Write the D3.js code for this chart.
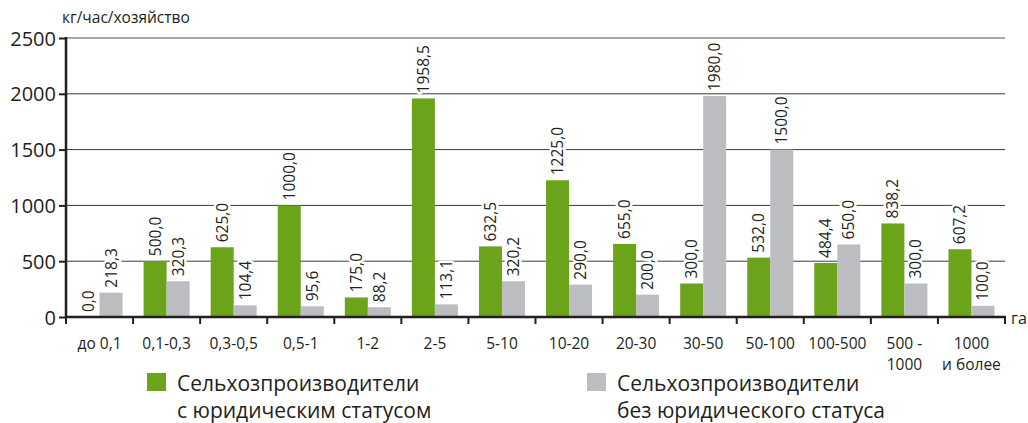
<!DOCTYPE html>
<html><head><meta charset="utf-8">
<script src="https://cdn.jsdelivr.net/npm/d3@7"></script>
<style>
body{margin:0;background:#fff;}
svg text{font-family:"Open Sans","Noto Sans",sans-serif;fill:#231f20;}
</style></head>
<body><svg id="c" width="1028" height="423"></svg>
<script>
const categories = [["до 0,1"],["0,1-0,3"],["0,3-0,5"],["0,5-1"],["1-2"],["2-5"],["5-10"],["10-20"],["20-30"],["30-50"],["50-100"],["100-500"],["500 -","1000"],["1000","и более"]];
const legalValues = [0, 500, 625, 1000, 175, 1958.5, 632.5, 1225, 655, 300, 532, 484.4, 838.2, 607.2];
const nonLegalValues = [218.3, 320.3, 104.4, 95.6, 88.2, 113.1, 320.2, 290, 200, 1980, 1500, 650, 300, 100];
const yTicks = [0, 500, 1000, 1500, 2000, 2500];
const seriesNames = [["Сельхозпроизводители","с юридическим статусом"],["Сельхозпроизводители","без юридического статуса"]];
const yTitle = "кг/час/хозяйство";
const xUnit = "га";

const colors = ["#6ba31b", "#bcbdc0"];
const svg = d3.select("#c");
const L = 66, R = 1005, T = 38, B = 317;
const x = d3.scaleBand().domain(d3.range(categories.length)).range([L, R]).padding(0);
const y = d3.scaleLinear().domain([0, 2500]).range([B, T]);
const bw = 23;

// gridlines
svg.append("g").selectAll("line").data(yTicks.filter(d => d > 0)).join("line")
  .attr("x1", L).attr("x2", R).attr("y1", d => y(d)).attr("y2", d => y(d))
  .attr("stroke", d => d === 2500 ? "#8a8a8a" : "#3a3a3a").attr("stroke-width", d => d === 2500 ? 1.5 : 1);

const fmt = v => v.toFixed(1).replace(".", ",");
const series = [legalValues, nonLegalValues];
series.forEach((vals, si) => {
  const g = svg.append("g");
  g.selectAll("rect").data(vals).join("rect")
    .attr("x", (d, i) => x(i) + x.bandwidth() / 2 - bw + si * bw)
    .attr("width", bw)
    .attr("y", d => y(d)).attr("height", d => B - y(d))
    .attr("fill", colors[si]);
});
series.forEach((vals, si) => {
  svg.append("g").selectAll("text").data(vals).join("text")
    .attr("transform", (d, i) => `translate(${x(i) + x.bandwidth() / 2 - bw / 2 + si * bw + 5.5},${y(d) - 5}) rotate(-90)`)
    .attr("text-anchor", "start")
    .style("font-size", "15.5px")
    .attr("stroke", "#fff").attr("stroke-width", 5).attr("paint-order", "stroke")
    .style("stroke-linejoin", "round")
    .text(d => fmt(d));
});

// y axis
const ya = svg.append("g").attr("transform", `translate(${L},0)`)
  .call(d3.axisLeft(y).tickValues(yTicks).tickSize(7).tickPadding(3).tickFormat(d => d));
ya.select(".domain").attr("stroke", "#231f20").attr("stroke-width", 2.5).attr("d", `M0,${T - 1}V${B}`);
ya.selectAll(".tick line").attr("stroke", "#231f20").attr("stroke-width", 2);
ya.selectAll(".tick text").style("font-size", "20px").attr("dy", "0.35em");

// x axis
const xa = svg.append("g").attr("transform", `translate(0,${B})`);
xa.append("line").attr("x1", L - 1).attr("x2", R + 1).attr("stroke", "#231f20").attr("stroke-width", 2.5);
xa.selectAll("line.t").data(d3.range(categories.length + 1)).join("line").attr("class", "t")
  .attr("x1", i => L + i * x.bandwidth()).attr("x2", i => L + i * x.bandwidth())
  .attr("y1", 0).attr("y2", 7).attr("stroke", "#231f20").attr("stroke-width", 2);
xa.selectAll("text.c").data(categories).join("text").attr("class", "c")
  .attr("text-anchor", "middle").style("font-size", "15.5px")
  .attr("x", (d, i) => x(i) + x.bandwidth() / 2)
  .each(function(d) {
    d3.select(this).selectAll("tspan").data(d).join("tspan")
      .attr("x", d3.select(this).attr("x")).attr("y", (t, j) => 32 + j * 21).text(t => t);
  });

svg.append("text").attr("x", 1011).attr("y", 324).style("font-size", "16px").text(xUnit);
svg.append("text").attr("x", 62).attr("y", 23).style("font-size", "15.5px").text(yTitle);

// legend
const lx = [147, 587];
seriesNames.forEach((nm, i) => {
  svg.append("rect").attr("x", lx[i]).attr("y", 373).attr("width", 19).attr("height", 18).attr("fill", colors[i]);
  svg.append("text").attr("x", lx[i] + 30).attr("y", 391).style("font-size", "21px").text(nm[0]);
  svg.append("text").attr("x", lx[i] + 30).attr("y", 418).style("font-size", "21px").text(nm[1]);
});
</script></body></html>
